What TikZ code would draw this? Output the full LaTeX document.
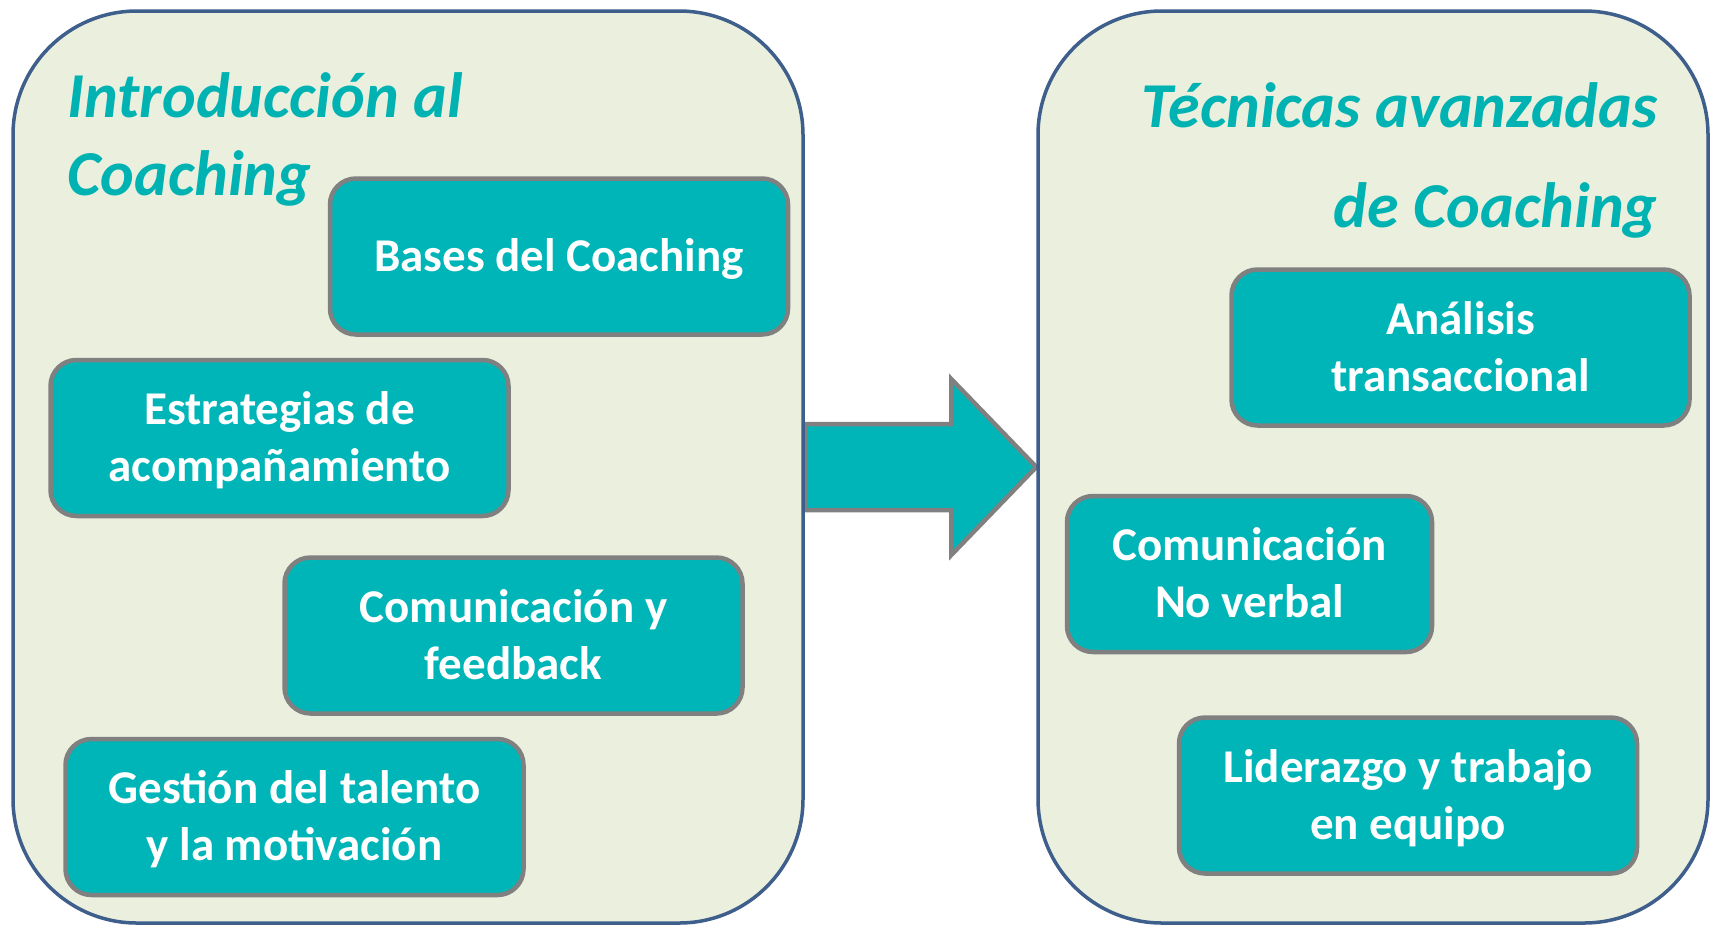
\documentclass[tikz,border=0pt]{standalone}
\usepackage{fontspec}
\setmainfont{Carlito}
\usetikzlibrary{calc,backgrounds}
\definecolor{teal1}{RGB}{0,181,184}
\definecolor{titlec}{RGB}{0,178,178}
\definecolor{panelfill}{RGB}{235,240,222}
\definecolor{paneldraw}{RGB}{62,94,140}
\definecolor{boxdraw}{RGB}{128,128,128}
\begin{document}
\begin{tikzpicture}[x=0.5pt,y=-0.5pt,
 panel/.style={draw=paneldraw,line width=1.75pt,fill=panelfill,rounded corners=62pt,inner sep=0pt},
 topic/.style={draw=boxdraw,line width=2.25pt,fill=teal1,rounded corners=13pt,text=white,
   font=\fontsize{23.5}{28.5}\selectfont\bfseries,align=center,inner sep=0pt,
   minimum width=229pt,minimum height=78pt,text height=21pt,text depth=6pt},
 two/.style={text height=49.5pt},
 ttl/.style={text=titlec,font=\fontsize{32}{39}\selectfont\bfseries\itshape,inner sep=0pt},
 arr/.style={draw=boxdraw,line width=2.25pt,fill=teal1,line join=miter}]
\useasboundingbox (0,0) rectangle (1713,927);
\node[panel,minimum width=395pt,minimum height=456pt] (L) at (408,467) {};
\node[panel,minimum width=335pt,minimum height=456pt] (R) at (1373,467) {};
\node[ttl,anchor=base west] (tL1) at (67,117) {Introducción al};
\node[ttl,anchor=base west] (tL2) at (67,195) {Coaching};
\node[ttl,anchor=base east] (tR1) at (1658,127) {Técnicas avanzadas};
\node[ttl,anchor=base east] (tR2) at (1658,227) {de Coaching};
\node[topic] (b1) at (559,256.5) {Bases del Coaching};
\node[topic,two] (b2) at (279.5,438) {Estrategias de\\acompañamiento};
\node[topic,two] (b3) at (513.5,635.5) {Comunicación y\\feedback};
\node[topic,two] (b4) at (294.5,817) {Gestión del talento\\y la motivación};
\node[topic,two] (b5) at (1460.5,347.5) {Análisis\\transaccional};
\node[topic,two,minimum width=182.5pt] (b6) at (1249.5,574) {Comunicación\\No verbal};
\node[topic,two] (b7) at (1408,795.5) {Liderazgo y trabajo\\en equipo};
\begin{pgfonlayer}{background}
\draw[arr] ($(L.east)+(0,-43)$) -- ($(R.west)+(-85,-43)$) -- ($(R.west)+(-85,-88)$)
  -- (R.west) -- ($(R.west)+(-85,88)$) -- ($(R.west)+(-85,43)$) -- ($(L.east)+(0,43)$) -- cycle;
\end{pgfonlayer}
\end{tikzpicture}
\end{document}
